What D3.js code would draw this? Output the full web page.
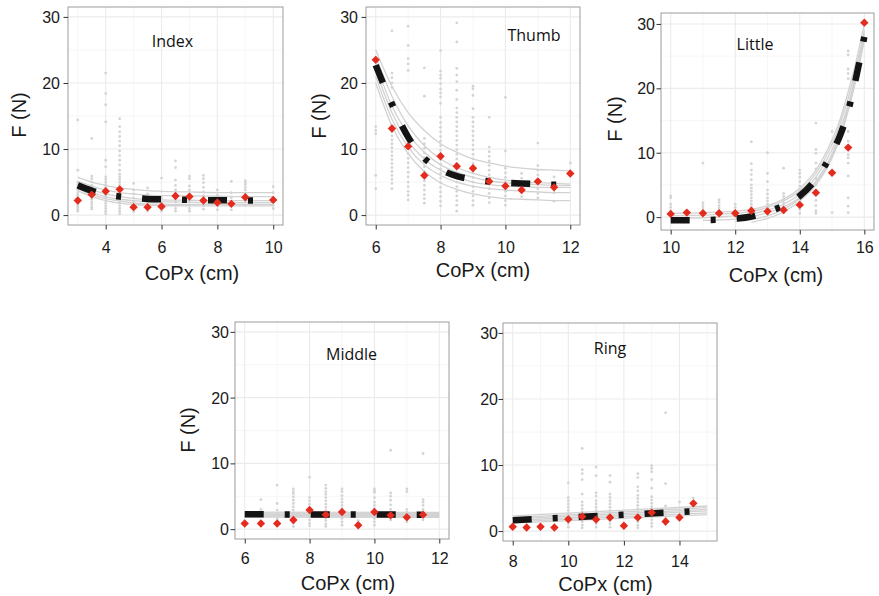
<!DOCTYPE html>
<html><head><meta charset="utf-8">
<script src="https://cdn.jsdelivr.net/npm/d3@7"></script>
<style>body{margin:0;background:#fff}</style>
</head><body>
<svg id="chart" width="879" height="596"></svg>
<script>
// ---------------- DATA ----------------
const yTicks = [0, 10, 20, 30];

// Index
const indexPoints = [
  [3, [14.4, 6.8, 5.0, 4.6, 4.2, 3.8, 3.4, 3.0, 2.6, 2.2, 1.8, 1.5, 1.2, 0.9, 0.6]],
  [3.5, [11.6, 5.9, 5.5, 5.0, 4.5, 4.1, 3.6, 3.2, 2.8, 2.4, 2.0, 1.6, 1.2, 0.9]],
  [4, [21.5, 18.4, 16.7, 14.1, 8.3, 7.3, 5.8, 5.4, 5.0, 4.6, 4.2, 3.8, 3.4, 3.0, 2.6, 2.2, 1.8, 1.4, 1.0, 0.6, 0.2]],
  [4.5, [14.6, 13.4, 12.6, 11.9, 11.2, 10.5, 9.7, 9.0, 8.3, 7.6, 6.8, 6.2, 5.8, 5.4, 5.0, 4.6, 4.2, 3.8, 3.4, 3.0, 2.6, 2.2, 1.8, 1.4, 1.0, 0.6, 0.2]],
  [5, [4.8, 3.8, 3.2, 2.6, 2.0, 1.5, 1.0, 0.5]],
  [5.5, [4.1, 3.2, 2.6, 2.0, 1.5, 1.0, 0.6]],
  [6, [5.6, 2.6, 2.0, 1.5, 1.0, 0.6]],
  [6.5, [8.2, 7.2, 5.3, 4.5, 3.8, 3.2, 2.6, 2.0, 1.5, 1.0, 0.6]],
  [7, [5.9, 5.5, 4.4, 3.8, 3.2, 2.6, 2.0, 1.5, 1.0, 0.6]],
  [7.5, [6.0, 5.5, 4.9, 4.2, 3.5, 2.9, 2.4, 1.9, 1.4, 0.9]],
  [8, [3.8, 3.0, 2.4, 1.9, 1.4, 0.8]],
  [8.5, [5.1, 3.4, 2.6, 2.0, 1.4, 0.8]],
  [9, [5.2, 4.9, 4.6, 4.2, 3.8, 3.2, 2.6, 2.0, 1.5]],
  [10, [4.3, 3.4, 2.6, 2.0, 1.5, 1.0]]
];
const indexMeans = [[3,2.2],[3.5,3.1],[4,3.6],[4.5,3.9],[5,1.2],[5.5,1.2],[6,1.3],[6.5,2.9],[7,2.8],[7.5,2.2],[8,1.9],[8.5,1.7],[9,2.7],[10,2.3]];
const indexCurveX = [3, 3.5, 4, 4.5, 5, 5.5, 6, 7, 8, 9, 10];
const indexFits = [
  [5.7, 5.0, 4.5, 4.1, 3.9, 3.7, 3.6, 3.5, 3.4, 3.4, 3.4],
  [5.1, 4.4, 3.8, 3.4, 3.2, 3.0, 2.95, 2.9, 2.85, 2.8, 2.8],
  [4.6, 3.8, 3.2, 2.8, 2.5, 2.4, 2.3, 2.25, 2.2, 2.2, 2.2],
  [4.3, 3.4, 2.8, 2.4, 2.2, 2.05, 2.0, 1.95, 1.9, 1.9, 1.9],
  [4.0, 3.1, 2.5, 2.1, 1.85, 1.7, 1.65, 1.6, 1.6, 1.6, 1.6],
  [3.7, 2.8, 2.2, 1.8, 1.6, 1.5, 1.45, 1.4, 1.4, 1.4, 1.4]
];
const indexMeanCurve = [4.5, 3.7, 3.1, 2.8, 2.6, 2.45, 2.4, 2.3, 2.25, 2.2, 2.2];

// Thumb
const thumbPoints = [
  [6, [13.4, 12.8, 12.3, 6.0, 4.0]],
  [6.5, [27.9, 21.5, 20.8, 20.0, 19.3, 13.3, 12.6, 12.0, 11.4, 10.8, 10.2, 9.6, 9.0, 8.4, 7.8, 7.2, 6.6, 6.0, 5.4, 4.8, 4.0]],
  [7, [28.6, 25.7, 23.7, 22.9, 21.9, 10.8, 9.3, 8.6, 7.9, 7.2, 6.5, 5.8, 5.0, 4.3, 3.6, 3.0, 2.3]],
  [7.5, [22.3, 18.0, 11.6, 10.8, 10.1, 9.4, 8.7, 8.0, 7.3, 6.6, 5.9, 5.2, 4.5, 3.8, 3.1, 2.5, 1.8]],
  [8, [24.9, 21.8, 21.2, 20.7, 19.9, 19.1, 18.5, 17.9, 16.9, 14.8, 14.0, 13.3, 12.6, 11.9, 11.2, 10.5, 9.8, 9.1, 8.4, 7.7, 7.0, 6.3, 5.6, 4.9, 4.2, 3.5, 2.8, 2.1, 1.4]],
  [8.5, [29.1, 26.2, 22.2, 21.2, 20.2, 18.9, 17.5, 16.2, 15.5, 14.8, 14.1, 13.4, 12.7, 12.0, 11.3, 10.6, 9.9, 9.2, 8.5, 7.8, 7.1, 6.4, 5.7, 5.0, 4.3, 3.6, 2.9, 2.2, 1.5, 0.6]],
  [9, [19.5, 19.1, 18.1, 16.1, 14.8, 14.1, 13.4, 12.7, 12.0, 11.3, 10.6, 9.9, 9.2, 8.5, 7.8, 7.1, 6.4, 5.7, 5.0, 4.3, 3.6, 2.9, 2.2, 1.5]],
  [9.5, [14.8, 10.3, 9.6, 8.9, 8.2, 7.5, 6.8, 6.1, 5.4, 4.7, 4.0, 3.3, 2.6, 1.9]],
  [10, [17.8, 9.7, 7.1, 6.4, 5.7, 5.0, 4.3, 3.6, 2.9, 2.2, 1.5]],
  [10.5, [6.3, 5.6, 4.9, 4.2, 3.5, 2.8]],
  [11, [10.9, 7.5, 6.8, 6.1, 5.4, 4.7, 4.0, 3.3, 2.6]],
  [11.5, [5.8, 4.8, 4.1, 3.4, 2.1]],
  [12, [7.9, 6.5]]
];
const thumbMeans = [[6,23.5],[6.5,13.1],[7,10.4],[7.5,6.0],[8,8.9],[8.5,7.4],[9,7.1],[9.5,5.1],[10,4.4],[10.5,3.8],[11,5.1],[11.5,4.2],[12,6.3]];
const thumbCurveX = [6, 6.5, 7, 7.5, 8, 8.5, 9, 9.5, 10, 10.5, 11, 11.5, 12];
const thumbFits = [
  [25, 19.5, 15.5, 12.8, 10.8, 9.5, 8.5, 7.9, 7.4, 7.1, 6.9, 6.8, 6.7],
  [24, 18, 13.5, 10.5, 8.5, 7.2, 6.3, 5.7, 5.3, 5.0, 4.9, 4.8, 4.7],
  [23, 16.5, 12.3, 9.5, 7.6, 6.5, 5.7, 5.2, 4.9, 4.7, 4.6, 4.5, 4.5],
  [22, 15.5, 11.2, 8.5, 6.8, 5.7, 5.0, 4.6, 4.4, 4.3, 4.2, 4.2, 4.2],
  [21, 14.5, 10.3, 7.6, 6.0, 5.0, 4.4, 4.0, 3.8, 3.6, 3.5, 3.4, 3.4],
  [20, 13.5, 9.3, 6.6, 4.9, 3.9, 3.2, 2.8, 2.5, 2.4, 2.3, 2.2, 2.2]
];
const thumbMeanCurve = [22.7, 16.8, 11.8, 8.6, 6.9, 5.9, 5.4, 5.1, 4.9, 4.8, 4.7, 4.6, 4.6];

// Little
const littlePoints = [
  [10, [3.3, 3.0, 2.0, 1.5, 1.0, 0.5]],
  [10.5, [1.0, 0.5]],
  [11, [8.4, 2.2, 1.8, 1.4, 1.0, 0.5]],
  [11.5, [2.7, 2.3, 1.8, 1.4, 1.0, 0.5]],
  [12, [2.0, 1.5, 1.0, 0.5]],
  [12.5, [11.7, 8.3, 7.3, 6.6, 5.8, 5.0, 4.5, 4.0, 3.5, 3.0, 2.5, 2.0, 1.5, 1.0, 0.5]],
  [13, [10.0, 6.8, 5.5, 4.2, 3.6, 3.0, 2.5, 2.0, 1.5, 1.0, 0.5]],
  [13.5, [7.6, 3.7, 3.2, 2.7, 2.2, 1.7, 1.2, 0.7]],
  [14, [7.3, 6.8, 6.2, 5.5, 4.8, 4.2, 3.6, 3.0, 2.4, 1.8, 1.2, 0.6]],
  [14.5, [14.6, 10.5, 9.9, 8.4, 7.5, 6.0, 5.0, 4.2, 3.4, 2.6, 1.8, 1.0, 0.6]],
  [15, [13.3, 0.7]],
  [15.5, [25.8, 25.2, 23.0, 22.3, 21.5, 13.3, 11.8, 9.7, 9.2, 8.4, 6.4, 3.0, 1.7, 0.7]]
];
const littleMeans = [[10,0.5],[10.5,0.7],[11,0.6],[11.5,0.6],[12,0.6],[12.5,1.0],[13,0.9],[13.5,1.1],[14,1.9],[14.5,3.8],[15,6.9],[15.5,10.8],[16,30.2]];
const littleCurveX = [10, 10.5, 11, 11.5, 12, 12.5, 13, 13.5, 14, 14.5, 15, 15.25, 15.5, 15.75, 16];
const littleFits = [
  [0.6, 0.6, 0.7, 0.8, 0.9, 1.2, 1.8, 2.8, 4.5, 7.3, 12.0, 15.2, 19.5, 24.3, 30.0],
  [0.2, 0.25, 0.3, 0.45, 0.6, 0.9, 1.5, 2.5, 4.1, 6.8, 11.3, 14.5, 18.5, 23.3, 29.0],
  [-0.2, -0.15, -0.1, 0.05, 0.2, 0.5, 1.1, 2.0, 3.6, 6.2, 10.5, 13.6, 17.5, 22.5, 28.5],
  [null, null, -0.5, -0.45, -0.3, 0.1, 0.7, 1.6, 3.1, 5.6, 9.8, 12.9, 17.0, 22.0, 28.0],
  [null, null, null, null, null, -0.8, -0.2, 0.8, 2.5, 5.0, 9.2, 12.3, 16.5, 21.5, 27.5],
  [null, null, null, null, -0.7, -0.4, 0.2, 1.2, 2.9, 5.4, 9.5, 12.6, 16.8, 21.8, 28.0]
];
const littleMeanCurve = [-0.5, -0.5, -0.45, -0.4, -0.25, 0.1, 0.8, 1.8, 3.3, 5.9, 10.0, 12.7, 16.5, 21.8, 28.0];

// Middle
const middlePoints = [
  [6.5, [4.5, 3.0, 2.4]],
  [7, [6.7, 3.9, 2.9, 2.2, 1.6, 1.0, 0.6]],
  [7.5, [6.1, 5.7, 5.4, 4.9, 4.4, 3.9, 3.4, 2.9, 2.4, 1.9, 1.4, 0.9, 0.4]],
  [8, [7.9, 4.8, 4.3, 3.8, 2.5, 1.9, 1.4, 0.9, 0.5]],
  [8.5, [6.7, 6.2, 5.7, 5.3, 4.8, 4.3, 3.8, 3.3, 2.8, 2.3, 1.8, 1.3, 0.8, 0.4]],
  [9, [6.1, 5.7, 5.1, 4.6, 4.1, 3.6, 3.1, 2.6, 2.1, 1.6, 1.1, 0.6]],
  [9.5, [1.3, 0.9]],
  [10, [6.1, 5.8, 5.6, 4.8, 4.1, 3.6, 3.1, 2.6, 2.1, 1.6, 1.1, 0.6]],
  [10.5, [12.0, 5.5, 5.0, 4.4, 3.7, 3.0, 2.5, 1.9, 1.4]],
  [11, [6.1, 5.7, 3.0, 2.6, 2.2, 1.6, 1.1]],
  [11.5, [11.5, 4.5, 4.1, 3.6, 3.0, 2.5, 1.9, 1.4]]
];
const middleMeans = [[6,0.86],[6.5,0.86],[7,0.86],[7.5,1.4],[8,2.9],[8.5,2.2],[9,2.6],[9.5,0.6],[10,2.6],[10.5,2.1],[11,1.8],[11.5,2.2]];
const middleCurveX = [6, 12];
const middleFits = [[2.6, 2.55], [2.45, 2.4], [2.3, 2.25], [2.15, 2.1], [2.0, 1.95], [1.85, 1.8]];
const middleMeanCurve = [2.25, 2.2];

// Ring
const ringPoints = [
  [10, [7.3, 5.1, 4.6, 4.1, 3.6, 3.1, 2.6, 2.1, 1.6, 1.1, 0.6]],
  [10.5, [12.5, 9.3, 8.7, 7.8, 5.6, 4.4, 3.9, 3.4, 2.9, 2.4, 1.9, 1.4, 0.9, 0.5]],
  [11, [9.7, 8.4, 5.8, 5.3, 4.6, 4.1, 3.6, 3.1, 2.6, 2.1, 1.6, 1.1, 0.6]],
  [11.5, [8.4, 7.4, 5.6, 5.1, 4.6, 4.1, 3.6, 3.1, 2.6, 2.1, 1.6, 1.1, 0.6]],
  [12.5, [8.7, 8.1, 6.7, 6.1, 5.4, 4.9, 4.4, 3.9, 3.4, 2.9, 2.4, 1.9, 1.4, 0.9, 0.5]],
  [13, [9.9, 9.5, 9.0, 7.8, 6.5, 5.2, 4.7, 4.2, 3.7, 3.2, 2.7, 2.2, 1.7, 1.2, 0.7]],
  [13.5, [17.9, 7.2, 3.8, 2.8, 2.2, 1.6, 1.0]],
  [14, [4.4, 2.5]],
  [14.5, [5.0]]
];
const ringMeans = [[8,0.65],[8.5,0.55],[9,0.65],[9.5,0.55],[10,1.8],[10.5,2.2],[11,1.75],[11.5,2.05],[12,0.8],[12.5,2.05],[13,2.8],[13.5,1.45],[14,2.05],[14.5,4.2]];
const ringCurveX = [8, 15];
const ringFits = [[2.3, 3.8], [2.05, 3.55], [1.85, 3.3], [1.6, 3.05], [1.4, 2.75], [1.2, 2.5]];
const ringMeanCurve = [1.65, 3.1];

// ---------------- LAYOUT ----------------
const panels = [
  {name: 'Index', pts: indexPoints, reds: indexMeans, cx: indexCurveX, fits: indexFits, mean: indexMeanCurve,
   box: [68, 283, 7, 225], xd: [2.65, 10.35], yd: [-1.5, 31.5], xt: [4, 6, 8, 10], xm: [3, 5, 7, 9],
   lab: [172.5, 47], xlab: [192, 280], ylab: [26, 115], xtb: 253, ytg: 8, curve: d3.curveMonotoneX},
  {name: 'Thumb', pts: thumbPoints, reds: thumbMeans, cx: thumbCurveX, fits: thumbFits, mean: thumbMeanCurve,
   box: [366, 580, 7, 225], xd: [5.7, 12.3], yd: [-1.5, 31.5], xt: [6, 8, 10, 12], xm: [7, 9, 11],
   lab: [534, 41], xlab: [483, 277], ylab: [326, 116], xtb: 253, ytg: 8, curve: d3.curveMonotoneX},
  {name: 'Little', pts: littlePoints, reds: littleMeans, cx: littleCurveX, fits: littleFits, mean: littleMeanCurve,
   box: [661, 874, 13, 230], xd: [9.7, 16.3], yd: [-2.0, 31.7], xt: [10, 12, 14, 16], xm: [11, 13, 15],
   lab: [755, 50], xlab: [776, 282], ylab: [622, 119], xtb: 253, ytg: 6, curve: d3.curveMonotoneX},
  {name: 'Middle', pts: middlePoints, reds: middleMeans, cx: middleCurveX, fits: middleFits, mean: middleMeanCurve,
   box: [235, 449, 322, 539], xd: [5.7, 12.3], yd: [-1.5, 31.5], xt: [6, 8, 10, 12], xm: [7, 9, 11],
   lab: [351.5, 360], xlab: [348, 590], ylab: [195, 430], xtb: 564, ytg: 6, curve: d3.curveLinear},
  {name: 'Ring', pts: ringPoints, reds: ringMeans, cx: ringCurveX, fits: ringFits, mean: ringMeanCurve,
   box: [503, 717, 323, 541], xd: [7.65, 15.35], yd: [-1.5, 31.5], xt: [8, 10, 12, 14], xm: [9, 11, 13, 15],
   lab: [610, 353.5], xlab: [605.5, 591], ylab: null, xtb: 567, ytg: 5, curve: d3.curveLinear}
];

const svg = d3.select('#chart');
svg.append('rect').attr('width', 879).attr('height', 596).attr('fill', '#fff');
const tickFont = '"Liberation Sans", Arial, sans-serif';

panels.forEach((p, i) => {
  const [l, r, t, b] = p.box;
  const x = d3.scaleLinear().domain(p.xd).range([l, r]);
  const y = d3.scaleLinear().domain(p.yd).range([b, t]);
  const g = svg.append('g');
  const clipId = 'clip' + i;
  g.append('clipPath').attr('id', clipId).append('rect')
    .attr('x', l).attr('y', t).attr('width', r - l).attr('height', b - t);

  const ym = [5, 15, 25];
  g.selectAll('.vmin').data(p.xm).join('line')
    .attr('x1', d => x(d)).attr('x2', d => x(d)).attr('y1', t).attr('y2', b)
    .attr('stroke', '#f4f4f4').attr('stroke-width', 0.8);
  g.selectAll('.hmin').data(ym).join('line')
    .attr('y1', d => y(d)).attr('y2', d => y(d)).attr('x1', l).attr('x2', r)
    .attr('stroke', '#f4f4f4').attr('stroke-width', 0.8);
  g.selectAll('.vmaj').data(p.xt).join('line')
    .attr('x1', d => x(d)).attr('x2', d => x(d)).attr('y1', t).attr('y2', b)
    .attr('stroke', '#ebebeb').attr('stroke-width', 1.1);
  g.selectAll('.hmaj').data(yTicks).join('line')
    .attr('y1', d => y(d)).attr('y2', d => y(d)).attr('x1', l).attr('x2', r)
    .attr('stroke', '#ebebeb').attr('stroke-width', 1.1);

  const plot = g.append('g').attr('clip-path', `url(#${clipId})`);

  const flat = [];
  p.pts.forEach(([xv, ys]) => ys.forEach(yv => flat.push([xv, yv])));
  plot.selectAll('circle.pt').data(flat).join('circle')
    .attr('cx', d => x(d[0])).attr('cy', d => y(d[1])).attr('r', 1.4)
    .attr('fill', '#d4d4d4');

  const line = d3.line().defined(d => d[1] !== null)
    .x(d => x(d[0])).y(d => y(d[1])).curve(p.curve);
  p.fits.forEach(f => {
    plot.append('path').attr('d', line(p.cx.map((xv, k) => [xv, f[k]])))
      .attr('fill', 'none').attr('stroke', '#d2d2d2').attr('stroke-width', 1.3);
  });

  plot.append('path').attr('d', line(p.cx.map((xv, k) => [xv, p.mean[k]])))
    .attr('fill', 'none').attr('stroke', '#141414').attr('stroke-width', 6.5)
    .attr('stroke-dasharray', '19,21,5,21').attr('stroke-linecap', 'butt');

  const s = 4.2;
  plot.selectAll('path.red').data(p.reds).join('path')
    .attr('d', `M0,${-s}L${s},0L0,${s}L${-s},0Z`)
    .attr('transform', d => `translate(${x(d[0])},${y(d[1])})`)
    .attr('fill', '#e32b1e');

  g.append('rect').attr('x', l).attr('y', t).attr('width', r - l).attr('height', b - t)
    .attr('fill', 'none').attr('stroke', '#9c9c9c').attr('stroke-width', 1);

  const xa = g.append('g').attr('transform', `translate(0,${b})`)
    .call(d3.axisBottom(x).tickValues(p.xt).tickSize(4.5).tickFormat(d3.format('d')));
  xa.select('.domain').remove();
  xa.selectAll('line').attr('stroke', '#333').attr('stroke-width', 1);
  xa.selectAll('text').attr('y', p.xtb - b).attr('dy', 0)
    .style('font-family', tickFont).style('font-size', '16px').attr('fill', '#1a1a1a');

  const ya = g.append('g').attr('transform', `translate(${l},0)`)
    .call(d3.axisLeft(y).tickValues(yTicks).tickSize(4.5).tickFormat(d3.format('d')));
  ya.select('.domain').remove();
  ya.selectAll('line').attr('stroke', '#333').attr('stroke-width', 1);
  ya.selectAll('text').attr('x', -p.ytg).attr('dy', '0.35em')
    .style('font-family', tickFont).style('font-size', '16px').attr('fill', '#1a1a1a');

  g.append('text').attr('x', p.xlab[0]).attr('y', p.xlab[1]).attr('text-anchor', 'middle')
    .style('font-family', tickFont).style('font-size', '20px').attr('fill', '#1a1a1a')
    .text('CoPx (cm)');
  if (p.ylab) {
    g.append('text').attr('transform', `translate(${p.ylab[0]},${p.ylab[1]}) rotate(-90)`)
      .attr('text-anchor', 'middle')
      .style('font-family', tickFont).style('font-size', '20px').attr('fill', '#1a1a1a')
      .text('F (N)');
  }
  g.append('text').attr('x', p.lab[0]).attr('y', p.lab[1]).attr('text-anchor', 'middle')
    .style('font-family', '"Open Sans", sans-serif').style('font-size', '16px').attr('fill', '#111')
    .text(p.name);
});
</script>
</body></html>
